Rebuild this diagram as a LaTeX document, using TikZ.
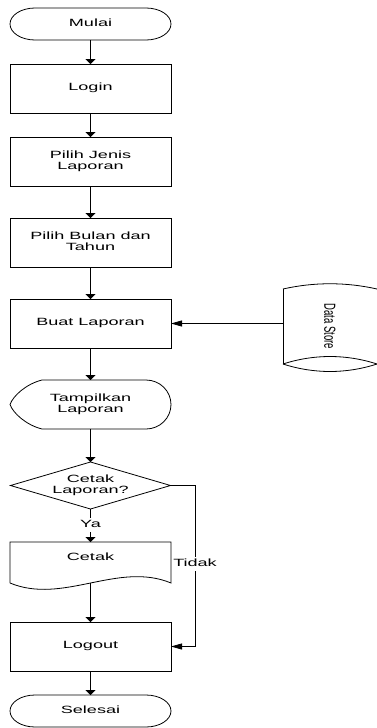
\documentclass[tikz,border=0pt]{standalone}
\usepackage{fontspec}
\setmainfont{Liberation Sans}
\usetikzlibrary{arrows.meta}
\usepackage{graphicx}

% widened text, as the labels are set in the chart
\newcommand\wt[1]{\scalebox{1.72}[1]{\begin{tabular}{@{}c@{}}#1\end{tabular}}}

\begin{document}
\begin{tikzpicture}[x=1pt,y=1pt,
  font=\fontsize{10.5}{11.5}\selectfont,
  every node/.style={inner sep=0pt, outer sep=0pt},
  procbox/.style={draw, line width=0.8pt, minimum width=161pt, minimum height=49pt},
  shapebox/.style={minimum width=161pt},
  outline/.style={draw, line width=0.8pt},
  flowv/.style={draw, line width=0.8pt, -{Triangle[width=10pt,length=5pt]}},
  flowh/.style={draw, line width=0.8pt, -{Triangle[width=6pt,length=11pt]}},
  lbl/.style={fill=white, inner sep=1.5pt}
]
\useasboundingbox[fill=white] (0,0) rectangle (377,-728);

% ---- start terminator
\node[shapebox, minimum height=32pt] (mulai) at (90.5,-24) {\wt{Mulai}};
\draw[outline] (35,-8) -- (146,-8) arc[start angle=90,end angle=-90,x radius=25,y radius=16]
  -- (35,-40) arc[start angle=270,end angle=90,x radius=25,y radius=16] -- cycle;

% ---- process steps
\node[procbox] (login) at (90.5,-88.5) {\wt{Login}};
\node[procbox] (jenis) at (90.5,-161.5) {\wt{Pilih Jenis\\Laporan}};
\node[procbox] (bulan) at (90.5,-242.5) {\wt{Pilih Bulan dan\\Tahun}};
\node[procbox] (buat) at (90.5,-323.5) {\wt{Buat Laporan}};

% ---- data store
\node[minimum width=94pt, minimum height=75pt] (ds) at (330,-326.5)
  {\rotatebox{-90}{\fontsize{10}{11}\selectfont\scalebox{0.95}[1.6]{Data Store}}};
\draw[outline] (283,-289) -- (283,-364);
\draw[outline] (283,-289) .. controls (314,-282) and (346,-282) .. (377,-289);
\draw[outline] (283,-364) .. controls (314,-354) and (346,-354) .. (377,-364);
\draw[outline] (283,-364) .. controls (314,-374) and (346,-374) .. (377,-364);

% ---- display
\node[shapebox, minimum height=49pt] (tampil) at (90.5,-404.5) {\wt{Tampilkan\\Laporan}};
\draw[outline] (42,-380) -- (146,-380)
  arc[start angle=90,end angle=-90,x radius=25,y radius=24.5]
  -- (42,-429) .. controls (26,-425) and (13,-413) .. (10,-404.5)
  .. controls (13,-396) and (26,-384) .. (42,-380) -- cycle;

% ---- decision
\node[minimum width=160pt, minimum height=47pt] (cetakq) at (90.5,-485.5) {\wt{Cetak\\Laporan?}};
\draw[outline] (cetakq.west) -- (cetakq.north) -- (cetakq.east) -- (cetakq.south) -- cycle;

% ---- document
\node[shapebox, minimum height=41pt] (cetak) at (90.5,-562.5) {};
\node (cetaktxt) at (90.5,-558) {\wt{Cetak}};
\draw[outline] (10,-583) -- (10,-542) -- (171,-542) -- (171,-583)
  .. controls (118,-561) and (63,-605) .. (10,-583);

% ---- logout and end
\node[procbox] (logout) at (90.5,-646.5) {\wt{Logout}};
\node[shapebox, minimum height=32pt] (selesai) at (90.5,-711) {\wt{Selesai}};
\draw[outline] (35,-695) -- (146,-695) arc[start angle=90,end angle=-90,x radius=25,y radius=16]
  -- (35,-727) arc[start angle=270,end angle=90,x radius=25,y radius=16] -- cycle;

% ---- connectors
\draw[flowv] (mulai.south) -- (login.north);
\draw[flowv] (login.south) -- (jenis.north);
\draw[flowv] (jenis.south) -- (bulan.north);
\draw[flowv] (bulan.south) -- (buat.north);
\draw[flowh] (buat.east -| ds.west) -- (buat.east);
\draw[flowv] (buat.south) -- (tampil.north);
\draw[flowv] (tampil.south) -- (cetakq.north);
\draw[flowv] (cetakq.south) -- node[lbl, pos=0.48] {\wt{Ya}} (cetak.north);
\draw[flowv] (cetak.south) -- (logout.north);
\coordinate (tidakturn) at (195,-485.5);
\draw[flowh] (cetakq.east) -- (tidakturn) |- node[lbl, pos=0.244] {\wt{Tidak}} (logout.east);
\draw[flowv] (logout.south) -- (selesai.north);
\end{tikzpicture}
\end{document}
